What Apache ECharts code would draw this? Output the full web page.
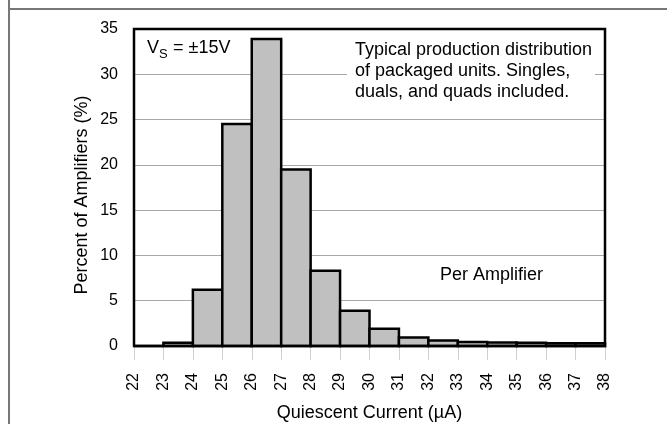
<!DOCTYPE html>
<html>
<head>
<meta charset="utf-8">
<script src="https://cdn.jsdelivr.net/npm/echarts@6/dist/echarts.min.js"></script>
<style>
html,body{margin:0;padding:0;background:#fff;}
#chart{width:667px;height:424px;}
</style>
</head>
<body>
<div id="chart"></div>
<script>
// Bin edges (µA) and percentage of amplifiers per bin
const binStarts = [22, 23, 24, 25, 26, 27, 28, 29, 30, 31, 32, 33, 34, 35, 36, 37];
const binWidth = 1;
const percents = [0, 0.35, 6.2, 24.5, 33.9, 19.5, 8.3, 3.9, 1.9, 0.95, 0.6, 0.45, 0.4, 0.35, 0.3, 0.3];
const xTicks = [22, 23, 24, 25, 26, 27, 28, 29, 30, 31, 32, 33, 34, 35, 36, 37, 38];
const yTicks = [0, 5, 10, 15, 20, 25, 30, 35];

const FONT = '"Liberation Sans", Arial, sans-serif';
const chart = echarts.init(document.getElementById('chart'), null, {renderer: 'canvas'});

const data = binStarts.map((s, i) => [s, s + binWidth, percents[i]]);

const G = {left: 134, top: 29, right: 62, bottom: 78};
const plotW = 667 - G.left - G.right, plotH = 424 - G.top - G.bottom;

chart.setOption({
  animation: false,
  backgroundColor: '#fff',
  grid: {left: G.left, right: G.right, top: G.top, bottom: G.bottom, show: false,
         containLabel: false, outerBoundsMode: 'none'},
  xAxis: {
    type: 'value',
    min: xTicks[0], max: xTicks[xTicks.length - 1], interval: 1,
    axisLine: {show: false},
    axisTick: {show: true, length: 14, lineStyle: {color: '#d0d0d0', width: 1}},
    axisLabel: {rotate: 90, fontSize: 16, fontFamily: FONT, color: '#000', margin: 27},
    splitLine: {show: false},
    name: 'Quiescent Current (\u00B5A)',
    nameLocation: 'middle', nameGap: 58,
    nameTextStyle: {fontSize: 18, fontFamily: FONT, color: '#000'}
  },
  yAxis: {
    type: 'value',
    min: yTicks[0], max: yTicks[yTicks.length - 1], interval: 5,
    axisLine: {show: false},
    axisTick: {show: false},
    axisLabel: {fontSize: 16, fontFamily: FONT, color: '#000', margin: 16},
    splitLine: {show: true, lineStyle: {color: '#a8a8a8', width: 1}}
  },
  series: [{
    type: 'custom',
    data: data,
    encode: {x: [0, 1], y: 2},
    renderItem: function (params, api) {
      const p0 = api.coord([api.value(0), api.value(2)]);
      const p1 = api.coord([api.value(1), 0]);
      return {
        type: 'rect',
        shape: {x: p0[0], y: p0[1], width: p1[0] - p0[0], height: p1[1] - p0[1]},
        style: {fill: '#c0c0c0', stroke: '#000', lineWidth: 2.5}
      };
    },
    z: 3
  }],
  graphic: [
    // outer frame lines
    {type: 'line', shape: {x1: 9, y1: 0, x2: 9, y2: 424}, style: {stroke: '#777', lineWidth: 2}},
    {type: 'line', shape: {x1: 9, y1: 9, x2: 667, y2: 9}, style: {stroke: '#777', lineWidth: 2}},
    // plot border
    {type: 'rect', shape: {x: G.left, y: G.top, width: plotW, height: plotH}, style: {fill: null, stroke: '#000', lineWidth: 2.5}, z: 10},
    // y-axis title
    {type: 'text', x: 82, y: 195, rotation: Math.PI / 2, z: 6,
      style: {text: 'Percent of Amplifiers (%)', font: '18px ' + FONT, fill: '#000', textAlign: 'center', textVerticalAlign: 'middle'}},
    // annotation background
    {type: 'rect', shape: {x: 347, y: 38, width: 248, height: 66}, style: {fill: '#fff'}, z: 5},
    {type: 'text', x: 355, y: 39.5, z: 6,
      style: {text: 'Typical production distribution\nof packaged units. Singles,\nduals, and quads included.',
        font: '18px ' + FONT, fill: '#000', lineHeight: 21, textVerticalAlign: 'top'}},
    {type: 'text', x: 147, y: 48, z: 6, style: {text: 'V', font: '18px ' + FONT, fill: '#000', textVerticalAlign: 'middle'}},
    {type: 'text', x: 159, y: 54, z: 6, style: {text: 'S', font: '13px ' + FONT, fill: '#000', textVerticalAlign: 'middle'}},
    {type: 'text', x: 168, y: 48, z: 6, style: {text: ' = \u00B115V', font: '18px ' + FONT, fill: '#000', textVerticalAlign: 'middle'}},
    {type: 'text', x: 440, y: 275, z: 6, style: {text: 'Per Amplifier', font: '18px ' + FONT, fill: '#000', textVerticalAlign: 'middle'}}
  ]
});
</script>
</body>
</html>
